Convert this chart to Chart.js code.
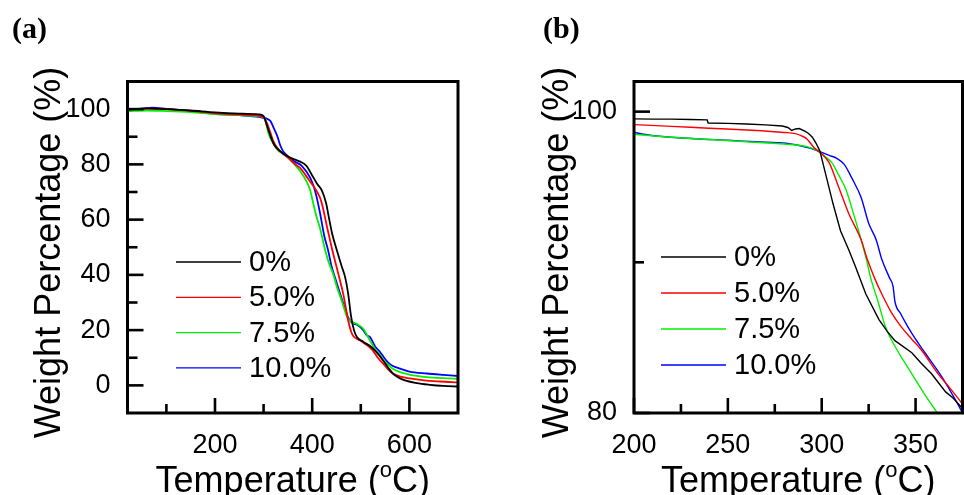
<!DOCTYPE html>
<html>
<head>
<meta charset="utf-8">
<title>TGA curves</title>
<script src="https://cdn.jsdelivr.net/npm/chart.js@4.4.1/dist/chart.umd.min.js"></script>
<style>
  body { margin: 0; background: #fff; }
  #wrap { position: relative; width: 964px; height: 495px; overflow: hidden; }
  canvas { position: absolute; top: 0; }
</style>
</head>
<body>
<div id="wrap">
  <canvas id="panelA" width="482" height="495" style="left:0px"></canvas>
  <canvas id="panelB" width="482" height="495" style="left:482px"></canvas>
</div>
<script>
// series labels and colours
const seriesNames = ['0%', '5.0%', '7.5%', '10.0%'];
const seriesColors = ['#000000', '#ff0000', '#00f000', '#0000ff'];

// panel (a): [temperature, weight %]
const a0 = [[20,99.8],[60,100.3],[100,100],[150,99.5],[200,98.8],[250,98.4],[290,98.1],[300,97.5],[307,94],[314,90.3],[322,87],[334,84.8],[348,83],[361,82],[375,81],[388,79.5],[400,76],[410,73],[420,70.5],[429,65.7],[433,62],[441,55],[451,48.7],[460,43.5],[468,39],[474,33.2],[480,25],[486,20],[492,17.5],[505,15.8],[523,13.7],[535,11.5],[546,9],[556,6.5],[566,4.3],[578,2.8],[591,1.8],[615,0.8],[642,0.2],[670,-0.2],[700,-0.4]];
const a5 = [[20,99.8],[60,100.2],[100,100],[150,99.4],[200,98.5],[250,98],[290,97.6],[300,97],[307,94.9],[314,91.5],[320,88.4],[328,86],[338,84.1],[350,82.5],[362,80.5],[375,78.7],[392,74.7],[405,71.5],[416,68],[421,65],[431,57],[440,50],[447,45],[455,39.5],[464,33],[474,23.5],[480,19.5],[484,18],[499,16.2],[509,15],[517,14],[525,12.6],[535,10],[546,7.9],[556,5.8],[566,4.3],[582,3.2],[601,2.5],[630,1.8],[663,1.4],[700,1.1]];
const a75 = [[20,99.3],[60,99.5],[100,99.3],[150,98.9],[200,98.2],[250,97.8],[290,97.4],[300,97],[305,95],[310,91.3],[320,87.5],[330,85],[338,84.1],[350,82.5],[361,80.5],[375,77.6],[390,73.3],[396,70.5],[402,66],[409,61],[416,57],[427,48.7],[435,44],[443,40.4],[452,35],[462,30],[470,25.5],[474,24],[484,22.8],[492,22.2],[505,20.5],[519,16.2],[530,13],[540,10.8],[548,8.8],[556,7.6],[566,6],[581,4.8],[600,3.9],[636,3],[670,2.6],[700,2.4]];
const a10 = [[20,99.6],[50,100.2],[71,100.5],[100,100.1],[150,99.3],[200,98.3],[250,97.8],[290,97.2],[300,96.8],[307,96.5],[314,95.7],[320,93.5],[328,90.3],[334,87],[340,84.8],[350,83],[362,81.2],[379,79.4],[396,75.1],[405,71],[410,67.5],[416,62.5],[425,54],[433,48.7],[440,43],[447,39],[455,34.5],[462,30.7],[468,27.5],[474,24.5],[484,22.4],[492,22],[505,20],[513,18],[519,17.5],[530,14],[540,12],[548,10],[556,8.3],[566,7],[581,6.1],[600,5],[636,4.3],[670,3.8],[700,3.4]];

// panel (b): zoom on the onset
const b0 = [[200,99.52],[210,99.5],[220,99.5],[230,99.48],[239,99.45],[239.5,99.25],[250,99.22],[260,99.18],[270,99.12],[279,99.05],[282,98.95],[284,98.75],[286,98.85],[288,98.88],[291,98.7],[293,98.55],[295,98.3],[297,97.9],[299,97.4],[302,95.9],[306,93.9],[310,92.1],[314.5,90.8],[318,89.7],[323.5,87.9],[330.5,86.2],[335,85.4],[339,84.8],[348,84],[353,83.3],[358.5,82.6],[366,81.4],[370,81],[375,80.3]];
const b5 = [[200,99.14],[220,99.02],[240,98.9],[260,98.78],[280,98.62],[286,98.54],[290,98.35],[292,98.2],[296,97.6],[300,97.2],[304,96.6],[309,95],[314.5,93.2],[321,91.5],[324,90.3],[328,89],[332,87.9],[337,86.7],[342.5,85.7],[348,84.9],[353,84.2],[362,82.6],[368,81.7],[375,80.6]];
const b75 = [[200,98.5],[220,98.3],[240,98.15],[260,98],[280,97.85],[293,97.65],[299,97.3],[302,97],[305.5,96.6],[309,95.8],[313,94.8],[317,93.2],[321,91.5],[324,90.1],[326,89],[330,87.4],[334,85.7],[341,84],[345,83.2],[350,82.2],[355,81.2],[360.5,80.2],[365,79.4]];
const b10 = [[200,98.63],[205,98.5],[215,98.35],[233,98.2],[250,98.1],[265,98],[281,97.9],[293,97.6],[299,97.35],[304,97.1],[308,96.9],[312,96.5],[316,95.6],[321,94.3],[325,92.6],[329,91.5],[332,90.2],[336,89],[338,88.4],[339,87.4],[342,86.6],[346,85.7],[350,84.9],[355,84],[364,82.4],[372,80.7],[375,80]];

// tick values
const aXMajor = [200, 400, 600], aXMinor = [100, 300, 500];
const aYMajor = [0, 20, 40, 60, 80, 100], aYMinor = [10, 30, 50, 70, 90];
const bXMajor = [200, 250, 300, 350], bXMinor = [225, 275, 325];
const bYMajor = [80, 100], bYMinor = [90];

const SANS = '"Liberation Sans", Arial, sans-serif';

// box, inward ticks, axis titles, legend, panel letter
const decor = {
  id: 'decor',
  afterDraw(chart, args, o) {
    const ctx = chart.ctx, a = chart.chartArea;
    const xs = chart.scales.x, ys = chart.scales.y;
    ctx.save();
    ctx.strokeStyle = '#000';
    ctx.lineWidth = 2.6;
    const seg = (x1, y1, x2, y2) => { ctx.beginPath(); ctx.moveTo(x1, y1); ctx.lineTo(x2, y2); ctx.stroke(); };
    o.xMajor.forEach(v => { const p = xs.getPixelForValue(v); seg(p, a.bottom, p, a.bottom - 15); });
    o.xMinor.forEach(v => { const p = xs.getPixelForValue(v); seg(p, a.bottom, p, a.bottom - 9); });
    o.yMajor.forEach(v => { const p = ys.getPixelForValue(v); seg(a.left, p, a.left + 16, p); });
    o.yMinor.forEach(v => { const p = ys.getPixelForValue(v); seg(a.left, p, a.left + 10, p); });
    ctx.lineWidth = 3;
    ctx.strokeRect(a.left, a.top, a.right - a.left, a.bottom - a.top);

    // legend
    ctx.lineWidth = 1.3;
    ctx.font = '29px ' + SANS;
    ctx.textBaseline = 'middle';
    ctx.fillStyle = '#000';
    chart.data.datasets.forEach((ds, i) => {
      const y = o.legY + i * o.legGap;
      ctx.strokeStyle = ds.borderColor;
      seg(o.legX, y, o.legX + 65, y);
      ctx.fillText(ds.label, o.legX + 73, y + 1);
    });

    // x title with raised "o"
    const cx = (a.left + a.right) / 2, by = 492;
    ctx.textBaseline = 'alphabetic';
    ctx.textAlign = 'left';
    const big = '36px ' + SANS, small = '22px ' + SANS;
    ctx.font = big; const w1 = ctx.measureText('Temperature (').width, w3 = ctx.measureText('C)').width;
    ctx.font = small; const w2 = ctx.measureText('o').width;
    let x = cx - (w1 + w2 + w3) / 2;
    ctx.font = big; ctx.fillText('Temperature (', x, by); x += w1;
    ctx.font = small; ctx.fillText('o', x, by - 15); x += w2;
    ctx.font = big; ctx.fillText('C)', x, by);

    // y title
    ctx.save();
    ctx.translate(o.yTitleX, 252.5);
    ctx.rotate(-Math.PI / 2);
    ctx.textAlign = 'center';
    ctx.font = big;
    ctx.fillText('Weight Percentage (%)', 0, 0);
    ctx.restore();

    // panel letter
    ctx.font = 'bold 30px "Liberation Serif", "Times New Roman", serif';
    ctx.textAlign = 'left';
    ctx.fillText(o.letter, o.letterX, 38);
    ctx.restore();
  }
};

// smooth: list of flags, one per series
function seriesSets(list, width, smooth) {
  return list.map((pts, i) => ({
    label: seriesNames[i],
    data: pts.map(p => ({ x: p[0], y: p[1] })),
    borderColor: seriesColors[i],
    borderWidth: width,
    pointRadius: 0,
    fill: false,
    cubicInterpolationMode: smooth[i] ? 'monotone' : 'default',
    tension: 0
  }));
}

function makePanel(id, cfg) {
  const tickFont = { family: SANS, size: 27 };
  return new Chart(document.getElementById(id), {
    type: 'line',
    data: { datasets: seriesSets(cfg.series, cfg.lineWidth, cfg.smooth) },
    options: {
      responsive: false,
      animation: false,
      devicePixelRatio: 1,
      layout: { padding: { top: 81.5, right: cfg.padRight, left: 0, bottom: 0 } },
      plugins: {
        legend: { display: false },
        tooltip: { enabled: false },
        decor: cfg.decor
      },
      scales: {
        x: {
          type: 'linear', min: cfg.xMin, max: cfg.xMax,
          grid: { display: false }, border: { display: false },
          ticks: { font: tickFont, color: '#000', padding: 8, maxRotation: 0, autoSkip: false },
          afterBuildTicks: s => { s.ticks = cfg.decor.xMajor.map(v => ({ value: v })); },
          afterFit: s => { s.height = 82; }
        },
        y: {
          type: 'linear', min: cfg.yMin, max: cfg.yMax,
          grid: { display: false }, border: { display: false },
          ticks: { font: tickFont, color: '#000', padding: 9, autoSkip: false },
          afterBuildTicks: s => { s.ticks = cfg.decor.yMajor.map(v => ({ value: v })); },
          afterFit: s => { s.width = cfg.yWidth; }
        }
      }
    },
    plugins: [decor]
  });
}

makePanel('panelA', {
  series: [a0, a5, a75, a10], lineWidth: 1.8, smooth: [true, true, true, true],
  xMin: 20, xMax: 700, yMin: -10, yMax: 110, yWidth: 127.5, padRight: 24,
  decor: { xMajor: aXMajor, xMinor: aXMinor, yMajor: aYMajor, yMinor: aYMinor,
           legX: 176, legY: 262, legGap: 35.3, yTitleX: 60, letter: '(a)', letterX: 12 }
});

makePanel('panelB', {
  series: [b0, b5, b75, b10], lineWidth: 1.4, smooth: [false, true, true, true],
  xMin: 200, xMax: 375, yMin: 80, yMax: 102, yWidth: 152, padRight: 1.5,
  decor: { xMajor: bXMajor, xMinor: bXMinor, yMajor: bYMajor, yMinor: bYMinor,
           legX: 179, legY: 257, legGap: 36, yTitleX: 86, letter: '(b)', letterX: 61 }
});
</script>
</body>
</html>
